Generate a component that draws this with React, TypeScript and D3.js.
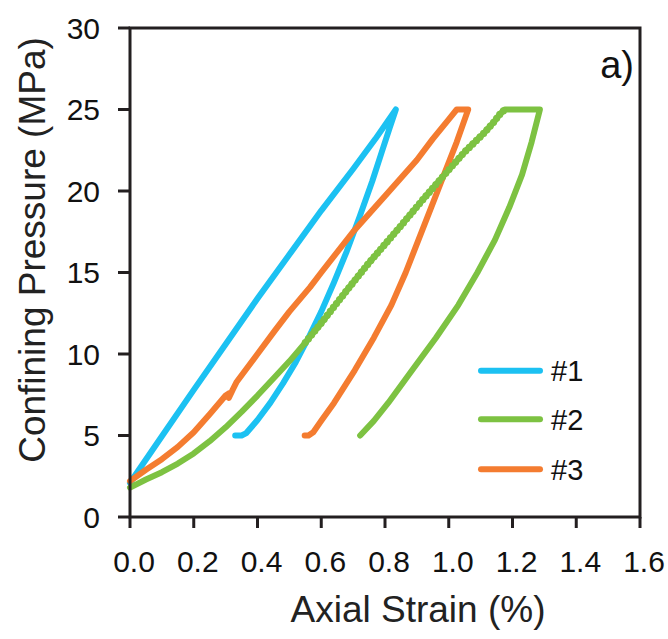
import React from "react";
import * as d3 from "d3";

const xTicks = [0, 0.2, 0.4, 0.6, 0.8, 1.0, 1.2, 1.4, 1.6];
const yTicks = [0, 5, 10, 15, 20, 25, 30];

// Sample #1: loading then unloading
const s1: [number, number][] = [
  [0, 2.1], [0.1, 4.95], [0.2, 7.8], [0.3, 10.6], [0.4, 13.4], [0.5, 16.1], [0.6, 18.8],
  [0.7, 21.35], [0.77, 23.2], [0.834, 25],
  [0.815, 23.9], [0.79, 22.4], [0.76, 20.6], [0.72, 18.4], [0.68, 16.3], [0.64, 14.4], [0.6, 12.6],
  [0.56, 11.0], [0.52, 9.5], [0.48, 8.2], [0.44, 7.0], [0.4, 5.95], [0.365, 5.15],
  [0.35, 5.0], [0.33, 5.0],
];
// Sample #2
const s2: [number, number][] = [
  [0, 1.8], [0.05, 2.3], [0.1, 2.75], [0.15, 3.28], [0.2, 3.9], [0.25, 4.65],
  [0.3, 5.5], [0.35, 6.45], [0.4, 7.45], [0.455, 8.6], [0.5, 9.55], [0.55, 10.7],
  [0.6, 11.9], [0.68, 13.9], [0.75, 15.6], [0.847, 17.8], [0.92, 19.5], [1.0, 21.3],
  [1.05, 22.4], [1.108, 23.5], [1.14, 24.2], [1.16, 24.7], [1.176, 25], [1.286, 25],
  [1.26, 23.0], [1.23, 21.0], [1.19, 19.0], [1.145, 17.0], [1.09, 15.0], [1.03, 13.0],
  [0.96, 11.0], [0.885, 9.0], [0.81, 7.0], [0.765, 5.9], [0.722, 5.0],
];
// Sample #3
const s3: [number, number][] = [
  [0, 2.2], [0.05, 2.9], [0.1, 3.55], [0.15, 4.3], [0.2, 5.2], [0.25, 6.3],
  [0.3, 7.45], [0.312, 7.6], [0.31, 7.3], [0.322, 7.8], [0.335, 8.3], [0.4, 10.0],
  [0.455, 11.45], [0.5, 12.6], [0.565, 14.1], [0.6, 15.0], [0.7, 17.5], [0.8, 19.7],
  [0.9, 21.9], [0.95, 23.2], [1.0, 24.4], [1.025, 25], [1.061, 25],
  [1.043, 24.0], [1.025, 23.0], [0.985, 21.0], [0.945, 19.0], [0.905, 17.0], [0.865, 15.0],
  [0.82, 13.0], [0.765, 11.0], [0.705, 9.0], [0.64, 7.0], [0.6, 5.9], [0.575, 5.2],
  [0.56, 5.0], [0.548, 5.0],
];

const seriesNames = ["#1", "#2", "#3"];
const seriesData = [s1, s2, s3];
const colors = ["#1cc1f2", "#7dc242", "#f47c30"];

export default function App() {
  const W = 668, H = 639;
  const x = d3.scaleLinear().domain([0, 1.6]).range([130, 640]);
  const y = d3.scaleLinear().domain([0, 30]).range([517, 28]);
  const line = d3.line<[number, number]>().x(d => x(d[0])).y(d => y(d[1]));
  const axisColor = "#231f20";
  const font = "'Liberation Sans', Arial, sans-serif";

  const topIdx = s2.findIndex(p => p[0] === 1.176);
  const beadSeg = s2.filter((d, i) => d[0] >= 0.55 && i <= topIdx);

  const legendY = [370.7, 419.3, 469.3];

  return (
    <svg width={W} height={H} style={{ position: "absolute", left: 0, top: 0, background: "#fff" }}>
      <rect x={0} y={0} width={W} height={H} fill="#fff" />
      {seriesData.map((s, i) => (
        <path key={i} d={line(s) || ""} fill="none" stroke={colors[i]} strokeWidth={6}
          strokeLinejoin="round" strokeLinecap="round" />
      ))}
      <path d={line(beadSeg) || ""} fill="none" stroke={colors[1]} strokeWidth={7.2}
        strokeDasharray="0 5" strokeLinecap="round" />
      <rect x={x(0)} y={y(30)} width={x(1.6) - x(0)} height={y(0) - y(30)} fill="none"
        stroke={axisColor} strokeWidth={3} />
      {yTicks.map(t => (
        <g key={"y" + t}>
          <line x1={x(0) - 12} x2={x(0)} y1={y(t)} y2={y(t)} stroke={axisColor} strokeWidth={3} />
          <text x={100} y={y(t)} dy="0.36em" textAnchor="end" fontFamily={font} fontSize={30} fill="#111">{t}</text>
        </g>
      ))}
      {xTicks.map(t => (
        <g key={"x" + t}>
          <line x1={x(t)} x2={x(t)} y1={y(0)} y2={y(0) + 11} stroke={axisColor} strokeWidth={3} />
          <text x={x(t) + 4} y={572} textAnchor="middle" fontFamily={font} fontSize={30} fill="#111">{t.toFixed(1)}</text>
        </g>
      ))}
      <text x={418} y={622} textAnchor="middle" fontFamily={font} fontSize={37} fill="#222">Axial Strain (%)</text>
      <text transform="translate(45,250) rotate(-90)" textAnchor="middle" fontFamily={font} fontSize={37} fill="#222">Confining Pressure (MPa)</text>
      <text x={634} y={78} textAnchor="end" fontFamily={font} fontSize={38} fill="#111">a)</text>
      {seriesNames.map((n, i) => (
        <g key={n}>
          <line x1={481} x2={540} y1={legendY[i]} y2={legendY[i]} stroke={colors[i]} strokeWidth={6} strokeLinecap="round" />
          <text x={551} y={legendY[i]} dy="0.36em" fontFamily={font} fontSize={29} fill="#111">{n}</text>
        </g>
      ))}
    </svg>
  );
}
